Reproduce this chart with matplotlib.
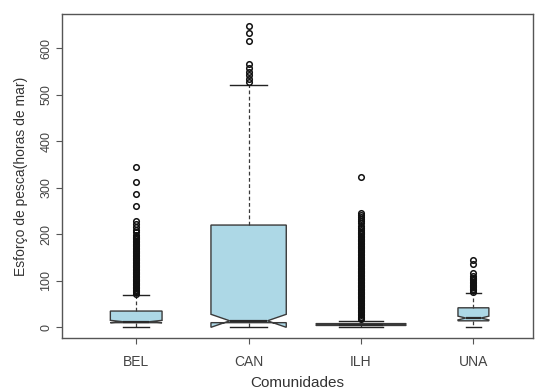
import matplotlib
matplotlib.use("Agg")
import matplotlib.pyplot as plt

plt.rcParams['font.family'] = ['Liberation Sans', 'DejaVu Sans']

comunidades = ["BEL", "CAN", "ILH", "UNA"]

# resumo das caixas (horas de mar)
q1 = [10, 10, 4, 14]
mediana = [12, 14, 6, 20]
q3 = [35, 220, 8, 42]
bigode_inf = [0, 0, 0, 0]
bigode_sup = [70, 522, 14, 74]
ic_inf = [10, 0, 5, 16]
ic_sup = [15, 28, 7, 24]
larguras = [0.46, 0.67, 0.80, 0.275]

outliers_bel = [345, 312, 287, 261, 228, 222, 216, 210, 204, 199, 195, 192,
                189, 186, 183, 180, 177, 174, 171, 168, 165, 162, 159, 156,
                153, 150, 147, 144, 141, 138, 135, 132, 129, 126, 123, 120,
                117, 114, 111, 108, 105, 102, 99, 96, 93, 90, 87, 84, 81,
                78, 75, 72]
outliers_can = [648, 633, 616, 567, 558, 550, 542, 534, 528]
outliers_ilh = [323, 246, 242, 238, 234, 229, 224, 219, 214, 210, 206, 203,
                200, 197, 194, 191, 188, 185, 182, 179, 176, 173, 170, 167,
                164, 161, 158, 155, 152, 149, 146, 143, 140, 137, 134, 131,
                128, 125, 122, 119, 116, 113, 110, 107, 104, 101, 98, 95,
                92, 89, 86, 83, 80, 77, 74, 71, 68, 65, 62, 59, 56, 53, 50,
                47, 44, 41, 38, 35, 32, 29, 26, 23, 20, 17]
outliers_una = [145, 137, 117, 110, 107, 104, 101, 98, 95, 92, 89, 86, 83,
                80, 77]
outliers = [outliers_bel, outliers_can, outliers_ilh, outliers_una]

stats = []
for i in range(len(comunidades)):
    stats.append({"label": comunidades[i], "q1": q1[i], "med": mediana[i],
                  "q3": q3[i], "whislo": bigode_inf[i],
                  "whishi": bigode_sup[i], "cilo": ic_inf[i],
                  "cihi": ic_sup[i], "fliers": outliers[i]})

fig = plt.figure(figsize=(5.36, 3.90), dpi=100)
ax = fig.add_axes([0.1157, 0.1333, 0.8787, 0.8308])

cor_linha = "#3a3a3a"
ax.bxp(stats, positions=[1, 2, 3, 4], widths=larguras,
       capwidths=[w / 2 for w in larguras], shownotches=True,
       patch_artist=True,
       boxprops=dict(facecolor="#add8e6", edgecolor=cor_linha, linewidth=1.0),
       medianprops=dict(color="#2a2a2a", linewidth=1.6),
       whiskerprops=dict(color=cor_linha, linewidth=0.9, linestyle=(0, (3, 2))),
       capprops=dict(color="#222222", linewidth=1.0),
       flierprops=dict(marker="o", markersize=4, markerfacecolor="none",
                       markeredgecolor="#111111", markeredgewidth=1.1))

ax.set_xlim(0.34, 4.53)
ax.set_ylim(-23, 674)
ax.set_yticks([0, 100, 200, 300, 400, 500, 600])
ax.set_xticks([1, 2, 3, 4])
ax.set_xticklabels(comunidades)
ax.tick_params(axis="y", labelrotation=90, labelsize=9, length=4,
               color="#555555", labelcolor="#444444", pad=3)
ax.tick_params(axis="x", labelsize=10, length=4, color="#555555",
               labelcolor="#444444", pad=8)
for t in ax.get_yticklabels():
    t.set_verticalalignment("center")
for lado in ax.spines.values():
    lado.set_color("#555555")
    lado.set_linewidth(1.0)

ax.set_xlabel("Comunidades", fontsize=11, color="#333333", labelpad=5)
ax.set_ylabel("Esforço de pesca(horas de mar)", fontsize=10,
              color="#333333", labelpad=9)

fig.savefig("out.png", dpi=100)
